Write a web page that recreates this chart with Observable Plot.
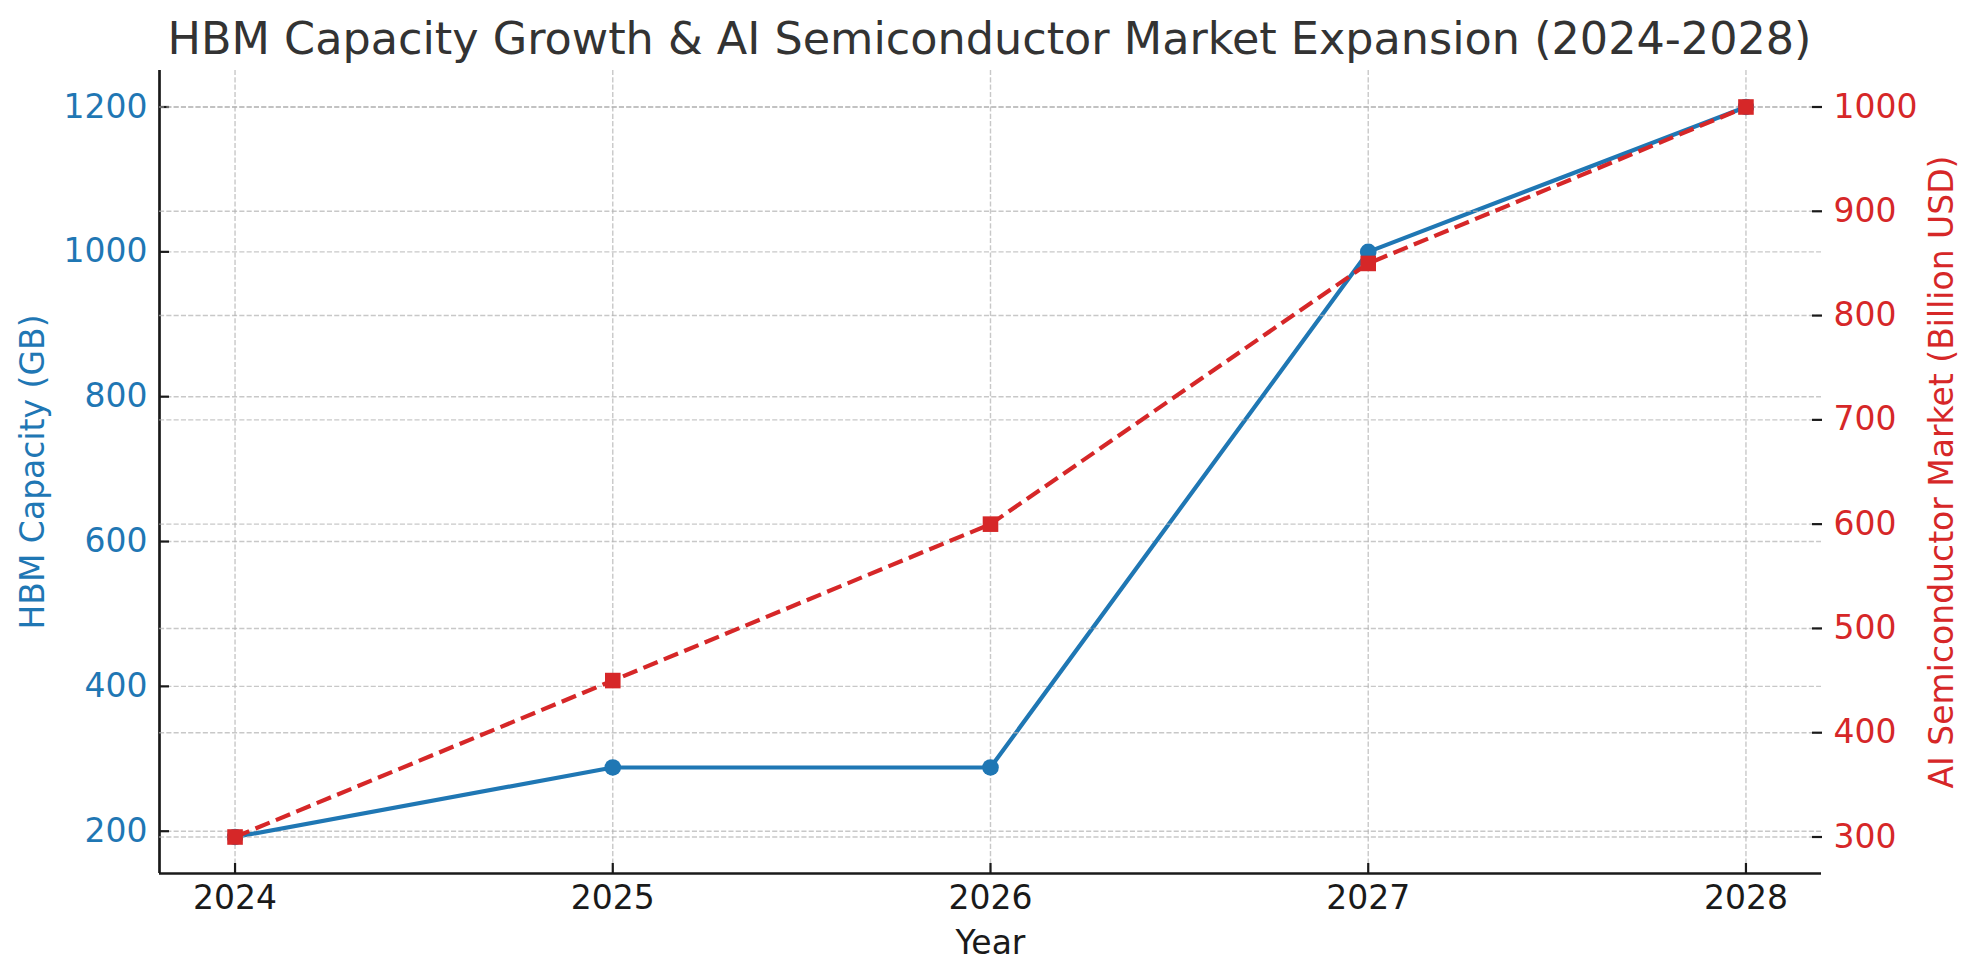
<!DOCTYPE html>
<html>
<head>
<meta charset="utf-8">
<script src="https://cdn.jsdelivr.net/npm/d3@7"></script>
<script src="https://cdn.jsdelivr.net/npm/@observablehq/plot@0.6"></script>
<style>
  html, body { margin: 0; padding: 0; background: #ffffff; }
  #title {
    width: 1979px; height: 70px; box-sizing: border-box; padding-top: 16.5px;
    text-align: center; font-family: "DejaVu Sans", sans-serif; font-size: 44.5px;
    line-height: 44.5px; color: #333333; white-space: nowrap;
  }
  #wrap { position: relative; width: 1979px; height: 910px; }
  #wrap svg { position: absolute; left: 0; top: 0; }
</style>
</head>
<body>
<div id="title"></div>
<div id="wrap"></div>
<script>
// ---- data ----
const years = [2024, 2025, 2026, 2027, 2028];
const hbmCapacity = [192, 288, 288, 1000, 1200];
const aiMarket = [300, 450, 600, 850, 1000];
const leftTicks = [200, 400, 600, 800, 1000, 1200];
const rightTicks = [300, 400, 500, 600, 700, 800, 900, 1000];
const titleText = "HBM Capacity Growth & AI Semiconductor Market Expansion (2024-2028)";
const xLabel = "Year";
const leftLabel = "HBM Capacity (GB)";
const rightLabel = "AI Semiconductor Market (Billion USD)";

// ---- tables built from the arrays ----
const hbmData = years.map((y, i) => ({year: y, value: hbmCapacity[i]}));
const aiData = years.map((y, i) => ({year: y, value: aiMarket[i]}));

// matplotlib-like 5% margins for the scale domains
function padded(vals) {
  const [a, b] = d3.extent(vals);
  const p = (b - a) * 0.05;
  return [a - p, b + p];
}
const xDomain = padded(years);
const yLeftDomain = padded(hbmCapacity);
const yRightDomain = padded(aiMarket);

document.getElementById("title").textContent = titleText;

const BLUE = "#1f77b4";
const RED = "#d62728";
const INK = "#1a1a1a";
const gridStyle = {stroke: "#b0b0b0", strokeOpacity: 0.7, strokeWidth: 1.4, strokeDasharray: "5.1,2.2"};

const common = {
  width: 1979,
  height: 910,
  marginLeft: 159,
  marginRight: 158,
  marginTop: 0,
  marginBottom: 107,
  style: {
    fontFamily: "DejaVu Sans, sans-serif",
    fontSize: "33px",
    background: "transparent",
    overflow: "visible",
    maxWidth: "none"
  }
};

const plotLeft = Plot.plot({
  ...common,
  x: {domain: xDomain, type: "linear"},
  y: {domain: yLeftDomain, type: "linear"},
  marks: [
    Plot.gridX(years, gridStyle),
    Plot.gridY(leftTicks, gridStyle),
    // spines (left and bottom)
    Plot.ruleX([xDomain[0]], {stroke: INK, strokeWidth: 2.7}),
    Plot.ruleY([yLeftDomain[0]], {stroke: INK, strokeWidth: 2.7}),
    // HBM series
    Plot.line(hbmData, {x: "year", y: "value", stroke: BLUE, strokeWidth: 4.2}),
    Plot.dot(hbmData, {x: "year", y: "value", r: 8.3, fill: BLUE, stroke: "none"}),
    // x axis: inward ticks, then labels
    Plot.axisX(years, {anchor: "bottom", tickSize: 10, dy: -10, stroke: INK, strokeWidth: 2.2, fill: "none"}),
    Plot.axisX(years, {
      anchor: "bottom", tickSize: 0, tickPadding: 12, fill: INK,
      tickFormat: d => String(d),
      label: xLabel, labelAnchor: "center", labelOffset: 80, labelArrow: "none"
    }),
    // left y axis: inward ticks, then labels
    Plot.axisY(leftTicks, {anchor: "left", tickSize: 10, dx: 10, stroke: INK, strokeWidth: 2.2, fill: "none"}),
    Plot.axisY(leftTicks, {
      anchor: "left", tickSize: 0, tickPadding: 12, fill: BLUE,
      tickFormat: d => String(d),
      label: leftLabel, labelAnchor: "center", labelOffset: 139, labelArrow: "none"
    })
  ]
});

const plotRight = Plot.plot({
  ...common,
  x: {domain: xDomain, type: "linear", axis: null},
  y: {domain: yRightDomain, type: "linear"},
  marks: [
    Plot.gridY(rightTicks, gridStyle),
    // AI market series
    Plot.line(aiData, {
      x: "year", y: "value", stroke: RED, strokeWidth: 4.2,
      strokeDasharray: "15.4,6.7", strokeLinecap: "butt", strokeLinejoin: "round"
    }),
    Plot.dot(aiData, {x: "year", y: "value", symbol: "square", r: 8.8, fill: RED, stroke: "none"}),
    // right y axis: inward ticks, then labels
    Plot.axisY(rightTicks, {anchor: "right", tickSize: 10, dx: -10, stroke: INK, strokeWidth: 2.2, fill: "none"}),
    Plot.axisY(rightTicks, {
      anchor: "right", tickSize: 0, tickPadding: 12, fill: RED,
      tickFormat: d => String(d),
      label: rightLabel, labelAnchor: "center", labelOffset: 131, labelArrow: "none"
    })
  ]
});

const wrap = document.getElementById("wrap");
wrap.appendChild(plotLeft);
wrap.appendChild(plotRight);
</script>
</body>
</html>
